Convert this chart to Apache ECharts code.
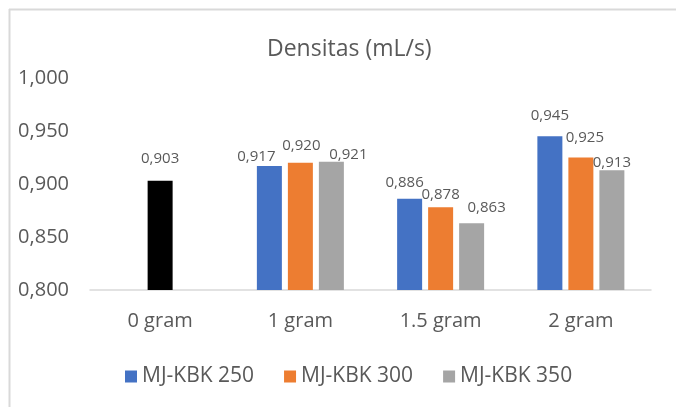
<!DOCTYPE html>
<html><head><meta charset="utf-8">
<script src="https://cdn.jsdelivr.net/npm/echarts@6/dist/echarts.min.js"></script>
<style>html,body{margin:0;padding:0;background:#fff}#c{width:676px;height:407px}</style>
</head><body><div id="c"></div>
<script>
const title = 'Densitas (mL/s)';
const categories = ['0 gram', '1 gram', '1.5 gram', '2 gram'];
const seriesNames = ['MJ-KBK 250', 'MJ-KBK 300', 'MJ-KBK 350'];
const kbk250 = [null, 0.917, 0.886, 0.945];
const kbk300 = [0.903, 0.920, 0.878, 0.925];
const kbk350 = [null, 0.921, 0.863, 0.913];
const yTicks = { min: 0.8, max: 1.0, interval: 0.05 };

// label nudges (style only), mimicking the reference's placement
const labelNudge = [
  [null, [-13, 0], [-5, -7], [0, -11]],
  [[0, -13], [1, -8], [0, -3], [4, -10]],
  [null, [17, 2], [15, -6], [0, 2]]
];
const colors = ['#4472C4', '#ED7D31', '#A5A5A5'];
const values = [kbk250, kbk300, kbk350];
const font = 'Open Sans';
const fmt = v => v.toFixed(3).replace('.', ',');

const series = values.map((arr, si) => ({
  name: seriesNames[si],
  type: 'bar',
  barWidth: 25,
  barGap: '24%',
  itemStyle: { color: colors[si] },
  label: {
    show: true, position: 'top', distance: 2,
    fontFamily: font, fontSize: 15, color: '#595959',
    formatter: p => fmt(p.value)
  },
  data: arr.map((v, i) => {
    if (v === null) return null;
    const d = { value: v };
    const n = labelNudge[si][i];
    if (n) d.label = { offset: n };
    if (si === 1 && i === 0) d.itemStyle = { color: '#000000' };
    return d;
  })
}));

const chart = echarts.init(document.getElementById('c'));
chart.setOption({
  animation: false,
  backgroundColor: '#fff',
  title: {
    text: title, left: 262, top: 33,
    textStyle: { fontFamily: font, fontSize: 23, fontWeight: 'normal', color: '#595959' }
  },
  graphic: [
    { type: 'line', shape: { x1: 9, y1: 9.5, x2: 676, y2: 9.5 }, style: { stroke: '#d9d9d9', lineWidth: 2 } },
    { type: 'line', shape: { x1: 9.5, y1: 9, x2: 9.5, y2: 407 }, style: { stroke: '#d9d9d9', lineWidth: 2 } }
  ],
  legend: {
    bottom: 15, left: 120, itemWidth: 12, itemHeight: 12, itemGap: 30,
    icon: 'rect',
    textStyle: { fontFamily: font, fontSize: 21, color: '#595959' },
    data: seriesNames
  },
  grid: { left: 90, right: 25, top: 78, bottom: 117 },
  xAxis: {
    type: 'category', data: categories,
    axisLine: { lineStyle: { color: '#d9d9d9', width: 1.5 } },
    axisTick: { show: false },
    axisLabel: { fontFamily: font, fontSize: 20, color: '#595959', margin: 21 }
  },
  yAxis: {
    type: 'value', min: yTicks.min, max: yTicks.max, interval: yTicks.interval,
    splitLine: { show: false },
    axisLine: { show: false }, axisTick: { show: false },
    axisLabel: { fontFamily: font, fontSize: 20, color: '#595959', margin: 21, formatter: v => fmt(v) }
  },
  series: series
});
</script></body></html>
